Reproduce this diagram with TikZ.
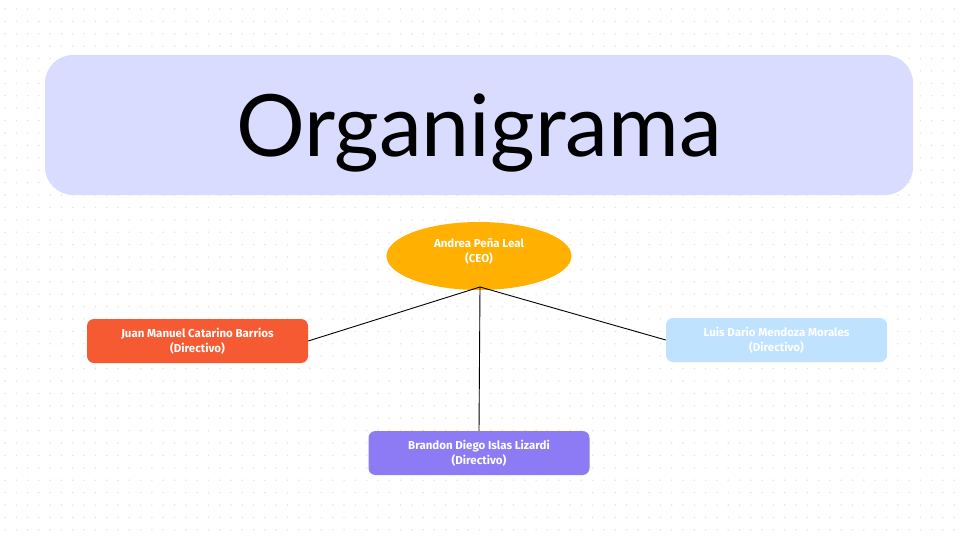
\documentclass[tikz,border=0pt]{standalone}
\usepackage{fontspec}
\setmainfont{Fira Sans}
\newfontfamily\titlefont{Lato}
\usetikzlibrary{shapes.geometric,positioning}

\definecolor{titlebg}{HTML}{D9DBFF}
\definecolor{ceoorange}{HTML}{FFB000}
\definecolor{dirred}{HTML}{F65A32}
\definecolor{dirblue}{HTML}{BEE2FF}
\definecolor{dirviolet}{HTML}{8D7BF5}
\definecolor{griddot}{HTML}{E2E2E2}

\begin{document}
\begin{tikzpicture}[
    x=1pt, y=-1pt,
    titlebox/.style={fill=titlebg, rounded corners=28pt, minimum width=868pt, minimum height=140pt, inner sep=0pt, text height=66pt, text depth=2pt, font=\titlefont\fontsize{86}{90}\selectfont},
    chief/.style={ellipse, fill=ceoorange, minimum width=185pt, minimum height=68pt, inner sep=0pt, align=center, text=white, text depth=11pt, font=\bfseries\fontsize{11.5}{15.5}\selectfont},
    member/.style={rounded corners=7pt, minimum width=221pt, minimum height=44pt, inner sep=0pt, align=center, text=white, font=\bfseries\fontsize{11.5}{15.5}\selectfont},
    link/.style={draw=black, line width=0.9pt}
]
\useasboundingbox (0,0) rectangle (960,540);
\fill[white] (0,0) rectangle (960,540);

% dot grid
\foreach \i in {0,...,84} {
  \foreach \j in {0,...,43} {
    \fill[griddot] (5+\i*11.3, 9+\j*12.4) circle (0.8pt);
  }
}

\node[titlebox] (T) at (479,125) {Organigrama};

\node[chief] (C) at (479,256) {Andrea Peña Leal\\(CEO)};
\node[member, fill=dirred] (L) at (197.5,341) {Juan Manuel Catarino Barrios\\(Directivo)};
\node[member, fill=dirblue] (R) at (776.5,340) {Luis Dario Mendoza Morales\\(Directivo)};
\node[member, fill=dirviolet] (B) at (479,453) {Brandon Diego Islas Lizardi\\(Directivo)};

\coordinate (H) at (480,287);
\draw[link] (H) -- (L.east);
\draw[link] (H) -- (R.west);
\draw[link] (H) -- (B.north);
\end{tikzpicture}
\end{document}
